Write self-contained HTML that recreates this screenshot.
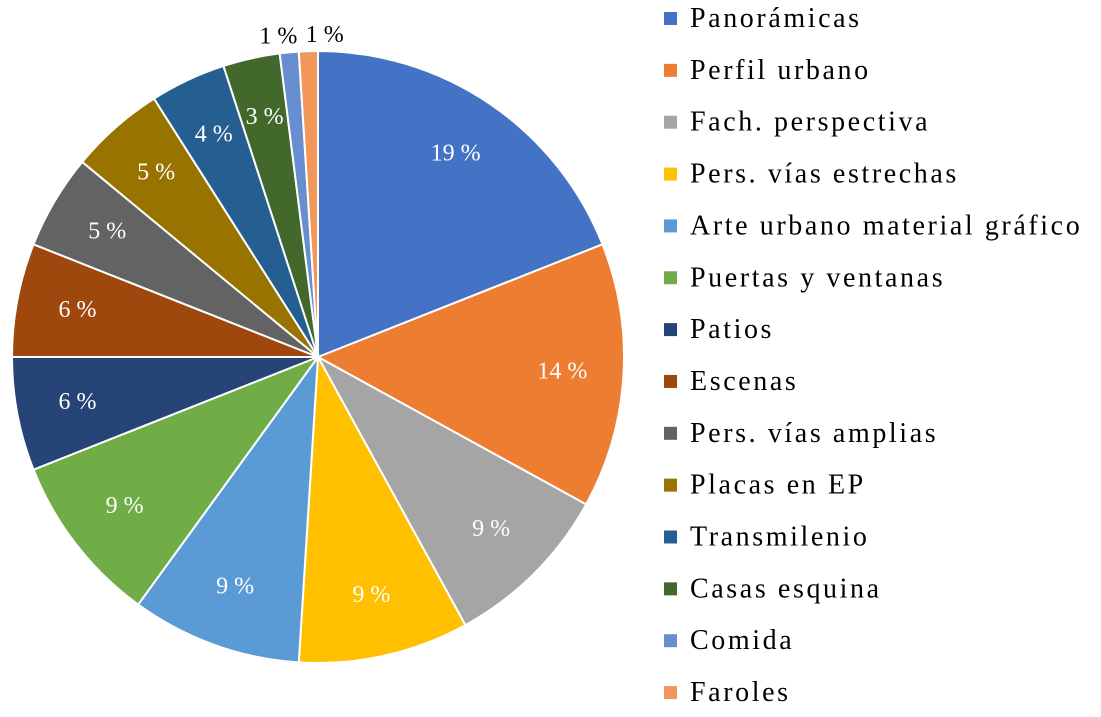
<!DOCTYPE html>
<html><head><meta charset="utf-8"><style>
html,body{margin:0;padding:0;background:#fff;}
svg{display:block;font-family:"Liberation Serif",serif;}
</style></head><body>
<svg id="chart" width="1101" height="717" viewBox="0 0 1101 717">
<g id="pie"></g>
<g id="labels"></g>
<g id="legend"></g>
</svg>
<script>
const categories=["Panorámicas","Perfil urbano","Fach. perspectiva","Pers. vías estrechas","Arte urbano material gráfico","Puertas y ventanas","Patios","Escenas","Pers. vías amplias","Placas en EP","Transmilenio","Casas esquina","Comida","Faroles"];
const values=[19,14,9,9,9,9,6,6,5,5,4,3,1,1];
const colors=["#4472c4","#ed7d31","#a5a5a5","#ffc000","#5b9bd5","#70ad47","#264478","#9e480e","#636363","#997300","#255e91","#43682b","#698ed0","#f1975a"];
const NS="http://www.w3.org/2000/svg";
const cx=318,cy=357,r=306;
const total=values.reduce((a,b)=>a+b,0);
const pie=document.getElementById('pie'),lab=document.getElementById('labels'),leg=document.getElementById('legend');
function pt(a,rr){return [cx+rr*Math.sin(a),cy-rr*Math.cos(a)];}
let cum=0;
values.forEach((v,i)=>{
  const a0=cum/total*2*Math.PI; cum+=v; const a1=cum/total*2*Math.PI;
  const p0=pt(a0,r),p1=pt(a1,r);
  const large=(a1-a0)>Math.PI?1:0;
  const path=document.createElementNS(NS,'path');
  path.setAttribute('d',`M${cx},${cy}L${p0[0]},${p0[1]}A${r},${r} 0 ${large} 1 ${p1[0]},${p1[1]}Z`);
  path.setAttribute('fill',colors[i]);path.setAttribute('stroke','#fff');path.setAttribute('stroke-width','2');
  
  
  pie.appendChild(path);
  const am=(a0+a1)/2;
  const t=document.createElementNS(NS,'text');
  t.setAttribute('font-size','24');
  if(v/total<0.02){
    const p=pt(am,r+20);
    const left=(i===values.length-2);
    t.setAttribute('x',left?p[0]+10:p[0]-2);t.setAttribute('y',p[1]+11);
    t.setAttribute('text-anchor',left?'end':'start');t.setAttribute('fill','#000');
  } else {
    const p=pt(am,r*0.8);
    t.setAttribute('x',p[0]);t.setAttribute('y',p[1]+6);
    t.setAttribute('text-anchor','middle');t.setAttribute('fill','#fff');
  }
  t.textContent=Math.round(v/total*100)+' %';
  
  
  lab.appendChild(t);
});
categories.forEach((c,i)=>{
  const y=18+i*51.85;
  const g=document.createElementNS(NS,'g');
  
  
  const s=document.createElementNS(NS,'rect');
  s.setAttribute('x',664);s.setAttribute('y',y-6);s.setAttribute('width',13);s.setAttribute('height',13);s.setAttribute('fill',colors[i]);
  g.appendChild(s);
  const t=document.createElementNS(NS,'text');
  t.setAttribute('x',690);t.setAttribute('y',y+9);t.setAttribute('font-size','28');t.setAttribute('fill','#000');
  t.setAttribute('letter-spacing','2.6');
  t.textContent=c;g.appendChild(t);
  leg.appendChild(g);
});
</script>
</body></html>
